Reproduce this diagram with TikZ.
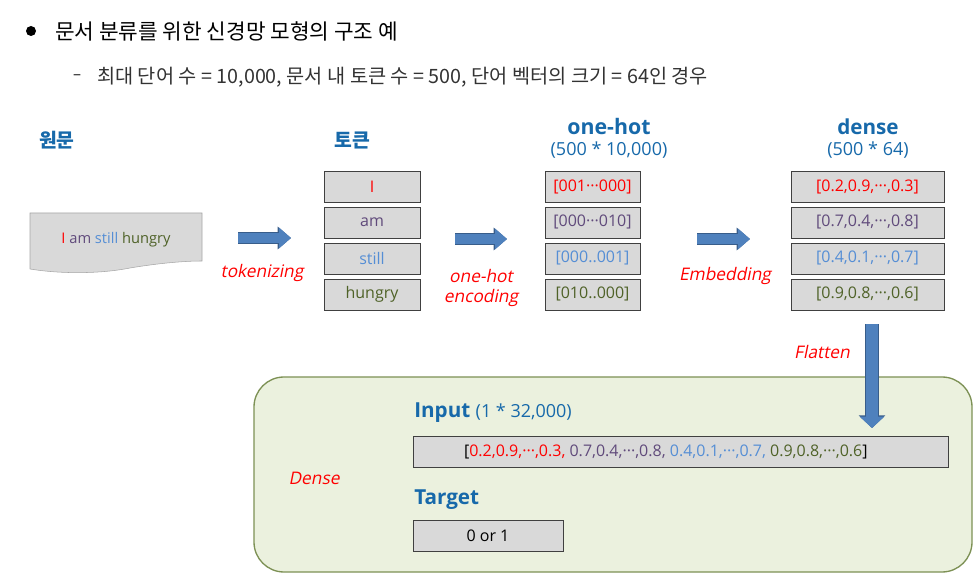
\documentclass[tikz,border=0pt]{standalone}
\usepackage{fontspec}
\setmainfont{Open Sans}
\newfontfamily\kr{Noto Sans CJK KR}
\newfontfamily\slant[FakeSlant=0.2]{Open Sans}
\usetikzlibrary{arrows.meta,positioning,calc}
\definecolor{headblue}{RGB}{23,105,170}
\definecolor{tred}{RGB}{255,0,0}
\definecolor{tpurple}{RGB}{96,74,123}
\definecolor{tblue}{RGB}{85,142,213}
\definecolor{tgreen}{RGB}{79,98,40}
\definecolor{cellgray}{RGB}{217,217,217}
\definecolor{cellline}{RGB}{64,64,64}
\definecolor{docline}{RGB}{166,166,166}
\definecolor{arrowfill}{RGB}{79,129,189}
\definecolor{arrowline}{RGB}{56,93,138}
\definecolor{panelfill}{RGB}{235,241,222}
\definecolor{panelline}{RGB}{125,145,85}
\newcommand{\mdots}{···}

\begin{document}
\begin{tikzpicture}[x=0.75pt,y=-0.75pt,
    cell/.style={draw=cellline,fill=cellgray,minimum height=23.25pt,inner sep=0pt,font=\fontsize{12}{14}\selectfont},
    tokcell/.style={cell,minimum width=72pt},
    hotcell/.style={cell,minimum width=71.25pt},
    dncell/.style={cell,minimum width=114.75pt},
    head/.style={headblue,inner sep=0pt,font=\bfseries\fontsize{15.5}{18}\selectfont},
    subhead/.style={headblue,inner sep=0pt,font=\fontsize{13.5}{16}\selectfont},
    steplbl/.style={tred,inner sep=0pt,align=center,font=\slant\fontsize{13}{14}\selectfont},
    fat/.style={preaction={draw=arrowline,line width=8.5pt,-{Triangle[width=16.5pt,length=10pt]}},
      line width=7.5pt,arrowfill,-{Triangle[width=15pt,length=9pt]}},
    fatdown/.style={preaction={draw=arrowline,line width=10pt,-{Triangle[width=19.5pt,length=9.5pt]}},
      line width=9pt,arrowfill,-{Triangle[width=18pt,length=8.5pt]}}]
  \useasboundingbox (0,0) rectangle (975,584);
  % heading lines
  \node[circle,fill=black,minimum size=7.5pt,inner sep=0pt] (bul) at (31,31) {};
  \node[anchor=west,inner sep=0pt,font=\kr\fontsize{16}{19}\selectfont] (title) at (55,31) {문서 분류를 위한 신경망 모형의 구조 예};
  \node[inner sep=0pt,text=black!80,font=\fontsize{12}{14}\selectfont] (dash) at (77,77) {–};
  \node[anchor=west,inner sep=0pt,text=black!80,font=\kr\fontsize{14.8}{17}\selectfont] (note) at (97,77) {최대 단어 수 = 10,000, 문서 내 토큰 수 = 500, 단어 벡터의 크기 = 64인 경우};
  % raw text
  \node[head,font=\kr\bfseries\fontsize{14.5}{17}\selectfont] (rawhd) at (57,140) {원문};
  \draw[docline,fill=cellgray] (30,213) -- (202,213) -- (202,261)
    .. controls (185,261) and (160,263) .. (130,268)
    .. controls (100,274) and (60,274) .. (30,269) -- cycle;
  \node[inner sep=0pt,font=\fontsize{11}{13}\selectfont] (doc) at (116,240)
    {\textcolor{tred}{I} \textcolor{tpurple}{am} \textcolor{tblue}{still} \textcolor{tgreen}{hungry}};
  % tokens
  \node[head,font=\kr\bfseries\fontsize{14.5}{17}\selectfont] (tokhd) at (352,140) {토큰};
  \node[tokcell,text=tred] (tok1) at (372,186.5) {I};
  \node[tokcell,text=tpurple,below=3.3pt of tok1] (tok2) {am};
  \node[tokcell,text=tblue,below=3.3pt of tok2] (tok3) {still};
  \node[tokcell,text=tgreen,below=3.3pt of tok3] (tok4) {hungry};
  % one-hot vectors
  \node[head,font=\bfseries\fontsize{16}{18}\selectfont] (hothd) at (609,127) {one-hot};
  \node[subhead] (hotsz) at (609,150) {(500 * 10,000)};
  \node[hotcell,text=tred] (hot1) at (592.5,186.5) {[001\mdots000]};
  \node[hotcell,text=tpurple,below=3.3pt of hot1] (hot2) {[000\mdots010]};
  \node[hotcell,text=tblue,below=3.3pt of hot2] (hot3) {[000..001]};
  \node[hotcell,text=tgreen,below=3.3pt of hot3] (hot4) {[010..000]};
  % dense vectors
  \node[head] (dnhd) at (868,127) {dense};
  \node[subhead] (dnsz) at (868,150) {(500 * 64)};
  \node[dncell,text=tred] (dn1) at (867.5,186.5) {[0.2,0.9,\mdots,0.3]};
  \node[dncell,text=tpurple,below=3.3pt of dn1] (dn2) {[0.7,0.4,\mdots,0.8]};
  \node[dncell,text=tblue,below=3.3pt of dn2] (dn3) {[0.4,0.1,\mdots,0.7]};
  \node[dncell,text=tgreen,below=3.3pt of dn3] (dn4) {[0.9,0.8,\mdots,0.6]};
  % step arrows
  \coordinate (a1) at (238,238);
  \coordinate (b1) at (291,238);
  \coordinate (a2) at (455,239);
  \coordinate (b2) at (507,239);
  \coordinate (a3) at (697,239);
  \coordinate (b3) at (750,239);
  \draw[fat] (a1) -- (b1);
  \draw[fat] (a2) -- (b2);
  \draw[fat] (a3) -- (b3);
  \node[steplbl] (lbtok) at (262,273) {tokenizing};
  \node[steplbl] (lbhot) at (481,288) {one-hot\\[1pt]encoding};
  \node[steplbl] (lbemb) at (725,276) {Embedding};
  % dense layer panel
  \draw[panelline,fill=panelfill,line width=1pt,rounded corners=22.5pt] (254,377) rectangle (972,572);
  \coordinate (fl1) at ($(dn4.south)+(4.5,14)$);
  \coordinate (fl2) at (872,428);
  \draw[fatdown] (fl1) -- (fl2);
  \node[steplbl] (lbfl) at (822,352) {Flatten};
  \node[steplbl] (lbdn) at (314,478) {Dense};
  \node[head,anchor=west] (inhd) at (414,413) {Input {\mdseries\fontsize{13.5}{16}\selectfont(1 * 32,000)}};
  \node[cell,minimum width=401.25pt] (inp) at (680.5,451.5)
    {[\textcolor{tred}{0.2,0.9,\mdots,0.3,} \textcolor{tpurple}{0.7,0.4,\mdots,0.8,} \textcolor{tblue}{0.4,0.1,\mdots,0.7,} \textcolor{tgreen}{0.9,0.8,\mdots,0.6}]\hspace*{22pt}};
  \node[head,anchor=west] (tghd) at (414,500) {Target};
  \node[cell,minimum width=112.5pt] (tgt) at (488,535.5) {0 or 1};
\end{tikzpicture}
\end{document}
